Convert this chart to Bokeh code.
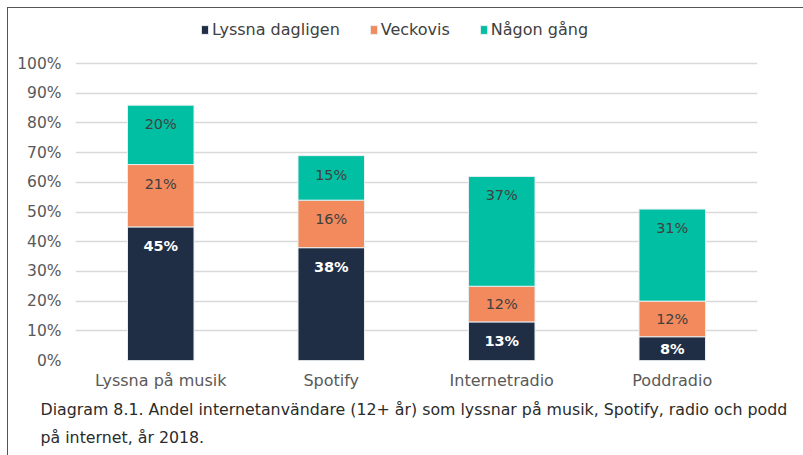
from bokeh.plotting import figure
from bokeh.models import Range1d, FactorRange, Title, FixedTicker, CustomJSTickFormatter
from bokeh.core.properties import value
from bokeh.embed import file_html
from bokeh.resources import INLINE

categories = ["Lyssna på musik", "Spotify", "Internetradio", "Poddradio"]
series_names = ["Lyssna dagligen", "Veckovis", "Någon gång"]
dagligen = [45, 38, 13, 8]
veckovis = [21, 16, 12, 12]
nagon_gang = [20, 15, 37, 31]
y_ticks = [0, 10, 20, 30, 40, 50, 60, 70, 80, 90, 100]
caption = ("Diagram 8.1. Andel internetanvändare (12+ år) som lyssnar på musik, Spotify, radio och podd\n"
           "på internet, år 2018.")

colors = ["#1f2e44", "#f28a5e", "#00bfa2"]
FONT = "'DejaVu Sans', sans-serif"

# frame extends above 100% to leave room for the legend
p = figure(x_range=FactorRange(*categories, range_padding=0), y_range=Range1d(0, 116.2),
           width=803, height=455, output_backend="svg", toolbar_location=None,
           min_border_left=75, min_border_right=46, min_border_top=15, min_border_bottom=95,
           styles={"background": "linear-gradient(#555555,#555555) 7px 7px / 100% 1px no-repeat, "
                                 "linear-gradient(#555555,#555555) 7px 7px / 1px 100% no-repeat, white"})
p.border_fill_alpha = 0
p.background_fill_alpha = 0

data = {"cat": categories, series_names[0]: dagligen, series_names[1]: veckovis, series_names[2]: nagon_gang}
p.vbar_stack(series_names, x="cat", width=0.39, color=colors, source=data,
             line_color="#e8eef0", line_width=1, legend_label=series_names)

# data labels near the top of each segment
offset = 6.4
series = [dagligen, veckovis, nagon_gang]
for i, vals in enumerate(series):
    xs, ys, txt = [], [], []
    for j, c in enumerate(categories):
        bottom = sum(s[j] for s in series[:i])
        top = bottom + vals[j]
        xs.append(c)
        ys.append(top - min(offset, vals[j] / 2))
        txt.append(f"{vals[j]}%")
    if i == 0:
        p.text(x=xs, y=ys, text=txt, text_color="white", text_font=value(FONT),
               text_font_style="bold", text_font_size="14.5px", text_align="center", text_baseline="middle")
    else:
        p.text(x=xs, y=ys, text=txt, text_color="#404040", text_font=value(FONT),
               text_font_size="14.5px", text_align="center", text_baseline="middle")

p.yaxis.ticker = FixedTicker(ticks=y_ticks)
p.yaxis.formatter = CustomJSTickFormatter(code="return tick + '%';")
p.yaxis.axis_line_color = None
p.yaxis.major_tick_line_color = None
p.yaxis.minor_tick_line_color = None
p.yaxis.major_label_text_font = FONT
p.yaxis.major_label_text_font_size = "15.5px"
p.yaxis.major_label_text_color = "#595959"
p.yaxis.major_label_standoff = 8

p.xaxis.axis_line_color = None
p.xaxis.major_tick_line_color = None
p.xaxis.major_label_text_font = FONT
p.xaxis.major_label_text_font_size = "16px"
p.xaxis.major_label_text_color = "#595959"
p.xaxis.major_label_standoff = 4

p.xgrid.grid_line_color = None
p.ygrid.grid_line_color = "#d9d9d9"
p.ygrid.grid_line_width = 1.5
p.outline_line_color = None

leg = p.legend[0]
leg.orientation = "horizontal"
leg.location = (125, 321)
leg.border_line_color = None
leg.background_fill_alpha = 0
leg.label_text_font = FONT
leg.label_text_font_size = "16px"
leg.label_text_color = "#404040"
leg.glyph_width = 9
leg.glyph_height = 11
leg.label_standoff = 3
leg.spacing = 29
leg.padding = 0
leg.margin = 0

t = Title(text=caption, align="left", text_font=FONT, text_font_size="15.8px",
          text_font_style="normal", text_color="#2b2b2b", offset=-35, standoff=9, text_line_height=1.5)
p.add_layout(t, "below")

open("out.html", "w").write(file_html(p, INLINE))
